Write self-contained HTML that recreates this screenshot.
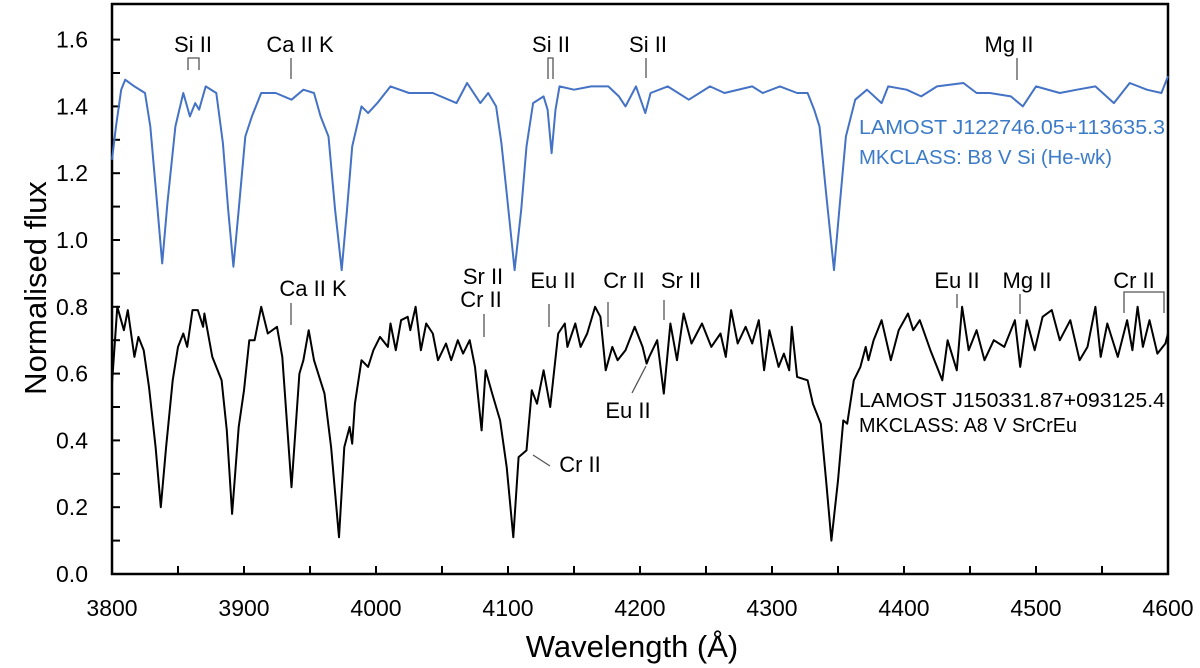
<!DOCTYPE html>
<html><head><meta charset="utf-8"><style>
html,body{margin:0;padding:0;background:#fff;}
svg{display:block;font-family:"Liberation Sans","DejaVu Sans",sans-serif;}
</style></head><body>
<svg id="chart" width="1200" height="668" viewBox="0 0 1200 668"></svg>
<script>
const xTicks=[3800,3900,4000,4100,4200,4300,4400,4500,4600];
const yTicks=[0.0,0.2,0.4,0.6,0.8,1.0,1.2,1.4,1.6];
const blueWave=[3800,3803,3807,3810,3817,3825,3829,3833,3838,3842,3848,3854,3859,3863,3866,3871,3879,3884,3888,3892,3896,3901,3906,3913,3924,3936,3945,3953,3958,3964,3969,3974,3978,3982,3989,3994,4001,4011,4025,4043,4061,4069,4079,4085,4091,4095,4099,4105,4110,4114,4119,4127,4130,4133,4136,4139,4150,4163,4176,4184,4189,4197,4204,4208,4221,4237,4253,4264,4285,4293,4306,4319,4327,4332,4336,4341,4347,4351,4356,4363,4372,4383,4388,4402,4413,4425,4445,4455,4465,4481,4490,4500,4518,4531,4545,4559,4571,4584,4595,4600];
const blueFlux=[1.24,1.34,1.45,1.48,1.46,1.44,1.34,1.16,0.93,1.11,1.34,1.44,1.37,1.41,1.39,1.46,1.44,1.29,1.09,0.92,1.09,1.31,1.37,1.44,1.44,1.42,1.45,1.44,1.37,1.31,1.09,0.91,1.09,1.28,1.40,1.38,1.41,1.46,1.44,1.44,1.41,1.47,1.41,1.44,1.40,1.29,1.14,0.91,1.09,1.28,1.41,1.43,1.39,1.26,1.39,1.46,1.45,1.46,1.46,1.43,1.40,1.46,1.38,1.44,1.46,1.42,1.46,1.44,1.46,1.44,1.46,1.44,1.44,1.39,1.34,1.14,0.91,1.09,1.31,1.42,1.45,1.41,1.46,1.45,1.43,1.46,1.47,1.44,1.44,1.43,1.40,1.46,1.44,1.45,1.46,1.41,1.47,1.45,1.44,1.49];
const blackWave=[3800,3804,3809,3812,3817,3820,3824,3828,3833,3837,3841,3846,3850,3854,3857,3861,3865,3869,3870,3876,3883,3887,3891,3896,3900,3904,3908,3913,3918,3925,3929,3936,3942,3945,3949,3953,3961,3966,3972,3976,3980,3982,3984,3989,3994,3998,4003,4009,4011,4015,4019,4024,4026,4030,4034,4038,4043,4047,4053,4057,4062,4066,4071,4075,4080,4083,4088,4094,4099,4104,4108,4114,4118,4122,4127,4132,4138,4143,4145,4151,4155,4160,4166,4170,4174,4179,4183,4189,4196,4202,4205,4207,4213,4218,4223,4228,4233,4239,4247,4254,4261,4265,4269,4274,4280,4285,4290,4294,4298,4305,4309,4313,4315,4319,4327,4331,4337,4341,4345,4350,4354,4357,4362,4367,4371,4373,4377,4383,4390,4396,4403,4407,4412,4420,4429,4433,4440,4444,4449,4455,4461,4468,4476,4484,4488,4493,4499,4505,4512,4518,4526,4533,4539,4545,4549,4554,4562,4569,4573,4577,4581,4586,4592,4598,4600];
const blackFlux=[0.57,0.80,0.73,0.79,0.65,0.71,0.67,0.56,0.38,0.20,0.38,0.58,0.68,0.72,0.68,0.79,0.79,0.74,0.78,0.65,0.58,0.43,0.18,0.44,0.55,0.70,0.70,0.80,0.72,0.74,0.65,0.26,0.60,0.64,0.73,0.64,0.54,0.38,0.11,0.38,0.44,0.39,0.51,0.64,0.62,0.67,0.71,0.68,0.75,0.67,0.76,0.77,0.73,0.80,0.67,0.75,0.72,0.64,0.69,0.64,0.70,0.66,0.70,0.62,0.43,0.61,0.54,0.46,0.32,0.11,0.35,0.37,0.55,0.51,0.61,0.50,0.72,0.75,0.68,0.75,0.68,0.72,0.80,0.77,0.61,0.68,0.64,0.67,0.74,0.68,0.63,0.65,0.70,0.54,0.75,0.64,0.78,0.69,0.75,0.68,0.72,0.65,0.79,0.69,0.74,0.69,0.76,0.61,0.73,0.62,0.66,0.61,0.74,0.59,0.58,0.51,0.45,0.28,0.10,0.28,0.46,0.45,0.58,0.62,0.68,0.64,0.70,0.76,0.64,0.73,0.78,0.73,0.76,0.67,0.58,0.70,0.61,0.80,0.67,0.73,0.64,0.70,0.68,0.76,0.62,0.76,0.67,0.77,0.79,0.70,0.76,0.64,0.68,0.80,0.65,0.75,0.65,0.76,0.67,0.80,0.68,0.76,0.66,0.69,0.72];

const L=112,R=1168,T=4,B=574;
const X=w=>L+(w-3800)*(R-L)/800;
const Y=v=>B-v*334;
const NS='http://www.w3.org/2000/svg';
const svg=document.getElementById('chart');
function mk(tag,attrs,parent){const e=document.createElementNS(NS,tag);for(const k in attrs)e.setAttribute(k,attrs[k]);(parent||svg).appendChild(e);return e;}
function txt(s,x,y,attrs){const e=mk('text',Object.assign({x:x,y:y},attrs||{}));e.textContent=s;return e;}

const frame=mk('rect',{x:L,y:T,width:R-L,height:B-T,fill:'none',stroke:'#000','stroke-width':2.5});



for(let i=0;i<=17;i++){const v=i*0.1;if(v>1.7)break;
 const t=mk('line',{x1:L,x2:L+8,y1:Y(v),y2:Y(v),stroke:'#000','stroke-width':2});
 
 }
yTicks.forEach(v=>{const t=txt(v.toFixed(1),88,Y(v)+8,{'text-anchor':'end','font-size':23,fill:'#000'});
 
 });
for(let w=3850;w<4600;w+=50){const t=mk('line',{x1:X(w),x2:X(w),y1:B,y2:B-8,stroke:'#000','stroke-width':2});
 
 }
xTicks.forEach(w=>{const t=txt(String(w),X(w),616,{'text-anchor':'middle','font-size':23,fill:'#000'});
 
 });

const xt=txt('Wavelength (Å)',632,657,{'text-anchor':'middle','font-size':31,fill:'#000'});


const yt=txt('Normalised flux',0,0,{'text-anchor':'middle','font-size':31,fill:'#000',transform:'translate(46,288) rotate(-90)'});



function series(ws,fs,col,name){const d=ws.map((w,i)=>(i?'L':'M')+X(w).toFixed(1)+','+Y(fs[i]).toFixed(1)).join('');
 const p=mk('path',{d:d,fill:'none',stroke:col,'stroke-width':2,'stroke-linejoin':'round'});
 
 }
series(blueWave,blueFlux,'#4472c4','spectrum-b8-si');
series(blackWave,blackFlux,'#000','spectrum-a8-srcreu');

const G='#555';
function lab(s,x,y,name,col){const t=txt(s,x,y,{'text-anchor':'middle','font-size':22,fill:col||'#000'});
 
 }
function ln(pts,name){const p=mk('polyline',{points:pts,fill:'none',stroke:G,'stroke-width':1.3});
 
 }
lab('Si II',193,52,'label-si-ii-1');ln('188,70 188,58 199,58 199,70','marker-si-ii-1');
lab('Ca II K',300,52,'label-ca-ii-k-top');ln('291,58 291,79','marker-ca-ii-k-top');
lab('Si II',551,52,'label-si-ii-2');ln('548,79 548,58 553,58 553,79','marker-si-ii-2');
lab('Si II',648,52,'label-si-ii-3');ln('646,58 646,78','marker-si-ii-3');
lab('Mg II',1009,52,'label-mg-ii-top');ln('1017,58 1017,80','marker-mg-ii-top');
lab('Ca II K',313,296,'label-ca-ii-k-bottom');ln('291,303 291,325','marker-ca-ii-k-bottom');
lab('Sr II',483,284,'label-sr-ii-1');lab('Cr II',481,307,'label-cr-ii-1');ln('484,314 484,337','marker-sr-cr-ii');
lab('Eu II',553,288,'label-eu-ii-1');ln('549,304 549,327','marker-eu-ii-1');
lab('Cr II',624,288,'label-cr-ii-2');ln('608,302 608,327','marker-cr-ii-2');
lab('Sr II',681,288,'label-sr-ii-2');ln('664,300 664,320','marker-sr-ii-2');
lab('Eu II',628,418,'label-eu-ii-2');ln('646,366 632,393','marker-eu-ii-2');
lab('Cr II',580,472,'label-cr-ii-3');ln('533,455 550,466','marker-cr-ii-3');
lab('Eu II',957,288,'label-eu-ii-3');ln('957,294 957,308','marker-eu-ii-3');
lab('Mg II',1027,288,'label-mg-ii-bottom');ln('1020,294 1020,314','marker-mg-ii-bottom');
lab('Cr II',1134,288,'label-cr-ii-4');ln('1124,313 1124,292 1164,292 1164,313','marker-cr-ii-4');

function info(s,y,col,name,w){const t=txt(s,859,y,{'font-size':20,fill:col,textLength:w,lengthAdjust:'spacingAndGlyphs'});
 
 }
info('LAMOST J122746.05+113635.3',134,'#3b7bc8','legend-b8-name',306);
info('MKCLASS: B8 V Si (He-wk)',164,'#3b7bc8','legend-b8-class',253);
info('LAMOST J150331.87+093125.4',407,'#000','legend-a8-name',306);
info('MKCLASS: A8 V SrCrEu',432,'#000','legend-a8-class',218);
</script>
</body></html>
